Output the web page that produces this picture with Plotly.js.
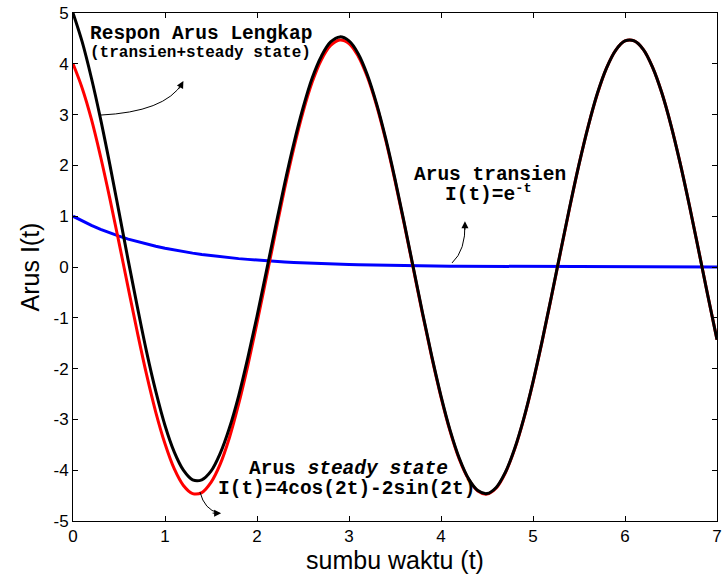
<!DOCTYPE html>
<html>
<head>
<meta charset="utf-8">
<script src="https://cdn.plot.ly/plotly-3.0.1.min.js"></script>
<style>html,body{margin:0;padding:0;background:#fff;}#chart{width:723px;height:580px;}</style>
</head>
<body>
<div id="chart"></div>
<script>
// time axis (s), step 0.1 from 0 to 7
const waktu = [0,0.1,0.2,0.3,0.4,0.5,0.6,0.7,0.8,0.9,1,1.1,1.2,1.3,1.4,1.5,1.6,1.7,1.8,1.9,2,2.1,2.2,2.3,2.4,2.5,2.6,2.7,2.8,2.9,3,3.1,3.2,3.3,3.4,3.5,3.6,3.7,3.8,3.9,4,4.1,4.2,4.3,4.4,4.5,4.6,4.7,4.8,4.9,5,5.1,5.2,5.3,5.4,5.5,5.6,5.7,5.8,5.9,6,6.1,6.2,6.3,6.4,6.5,6.6,6.7,6.8,6.9,7];
// transient current (blue)
const arusTransien = [1,0.905,0.819,0.741,0.670,0.607,0.549,0.497,0.449,0.407,0.368,0.333,0.301,0.273,0.247,0.223,0.202,0.183,0.165,0.150,0.135,0.122,0.111,0.100,0.091,0.082,0.074,0.067,0.061,0.055,0.050,0.045,0.041,0.037,0.033,0.030,0.027,0.025,0.022,0.020,0.018,0.017,0.015,0.014,0.012,0.011,0.010,0.009,0.008,0.007,0.007,0.006,0.006,0.005,0.005,0.004,0.004,0.003,0.003,0.003,0.002,0.002,0.002,0.002,0.002,0.002,0.001,0.001,0.001,0.001,0.001];
// steady-state current (red)
const arusSteady = [4.00,3.52,2.91,2.17,1.35,0.48,-0.41,-1.29,-2.12,-2.86,-3.48,-3.97,-4.30,-4.46,-4.44,-4.24,-3.88,-3.36,-2.70,-1.94,-1.10,-0.22,0.67,1.54,2.34,3.05,3.64,4.08,4.36,4.47,4.40,4.15,3.74,3.18,2.49,1.70,0.85,-0.04,-0.93,-1.78,-2.56,-3.24,-3.79,-4.18,-4.41,-4.47,-4.35,-4.05,-3.59,-2.99,-2.27,-1.46,-0.59,0.30,1.18,2.02,2.77,3.41,3.92,4.27,4.45,4.45,4.28,3.93,3.43,2.79,2.04,1.21,0.33,-0.56,-1.43];
// complete response (black)
const arusLengkap = [5.00,4.43,3.72,2.91,2.02,1.08,0.13,-0.79,-1.67,-2.45,-3.12,-3.64,-4.00,-4.19,-4.19,-4.02,-3.67,-3.17,-2.54,-1.79,-0.97,-0.10,0.78,1.64,2.43,3.13,3.72,4.15,4.43,4.53,4.45,4.20,3.78,3.21,2.52,1.73,0.87,-0.02,-0.91,-1.76,-2.54,-3.22,-3.77,-4.17,-4.40,-4.46,-4.34,-4.04,-3.58,-2.98,-2.26,-1.45,-0.58,0.31,1.19,2.02,2.77,3.42,3.92,4.27,4.45,4.45,4.28,3.93,3.43,2.79,2.04,1.21,0.33,-0.56,-1.43];
const xTicks = [0,1,2,3,4,5,6,7];
const yTicks = [-5,-4,-3,-2,-1,0,1,2,3,4,5];

const mono = 'Liberation Mono, Courier New, monospace';
const traces = [
  {x: waktu, y: arusTransien, mode: 'lines', line: {color: '#0000ff', width: 3}, hoverinfo: 'none'},
  {x: waktu, y: arusSteady, mode: 'lines', line: {color: '#ff0000', width: 3, shape: 'spline'}, hoverinfo: 'none'},
  {x: waktu, y: arusLengkap, mode: 'lines', line: {color: '#000000', width: 3, shape: 'spline'}, hoverinfo: 'none'}
];

const arrowHead = (x, y, ax, ay) => ({x: x, y: y, xref: 'x', yref: 'y', text: '', showarrow: true,
  arrowhead: 2, arrowsize: 1.4, arrowwidth: 1, arrowcolor: '#000', ax: ax, ay: ay, standoff: 0});

const layout = {
  width: 723, height: 580,
  margin: {l: 73, r: 6, t: 13, b: 59},
  paper_bgcolor: '#fff', plot_bgcolor: '#fff',
  showlegend: false,
  font: {family: 'Liberation Sans, Arial, sans-serif', color: '#000', size: 16},
  xaxis: {range: [0, 7], tickvals: xTicks, ticktext: xTicks.map(String), ticks: 'inside', ticklen: 5,
    tickcolor: '#000', showline: true, linecolor: '#000', linewidth: 1, mirror: 'ticks', showgrid: false,
    zeroline: false, tickfont: {size: 17}, title: {text: 'sumbu waktu (t)', font: {size: 25}, standoff: 4}},
  yaxis: {range: [-5, 5], tickvals: yTicks, ticktext: yTicks.map(String), ticks: 'inside', ticklen: 5,
    tickcolor: '#000', showline: true, linecolor: '#000', linewidth: 1, mirror: 'ticks', showgrid: false,
    zeroline: false, tickfont: {size: 17}, title: {text: 'Arus I(t)', font: {size: 25}, standoff: 6}},
  shapes: [
    {type: 'path', xref: 'x', yref: 'y', path: 'M 0.293 2.99 Q 1.0 3.05 1.19 3.62', line: {color: '#000', width: 1}},
    {type: 'path', xref: 'x', yref: 'y', path: 'M 4.12 0.08 Q 4.27 0.33 4.26 0.86', line: {color: '#000', width: 1}},
    {type: 'path', xref: 'x', yref: 'y', path: 'M 1.38 -4.43 Q 1.43 -4.78 1.58 -4.84', line: {color: '#000', width: 1}}
  ],
  annotations: [
    {x: 1.386, y: 4.59, xref: 'x', yref: 'y', text: '<b>Respon Arus Lengkap</b>', showarrow: false,
      font: {family: mono, size: 19.5, color: '#000'}},
    {x: 1.386, y: 4.21, xref: 'x', yref: 'y', text: '<b>(transien+steady state)</b>', showarrow: false,
      font: {family: mono, size: 16, color: '#000'}},
    {x: 4.53, y: 1.81, xref: 'x', yref: 'y', text: '<b>Arus transien</b>', showarrow: false,
      font: {family: mono, size: 19.5, color: '#000'}},
    {x: 4.52, y: 1.44, xref: 'x', yref: 'y', text: '<b>I(t)=e<sup>-t</sup></b>', showarrow: false,
      font: {family: mono, size: 19.5, color: '#000'}},
    {x: 2.99, y: -3.98, xref: 'x', yref: 'y', text: '<b>Arus <i>steady state</i></b>', showarrow: false,
      font: {family: mono, size: 19.5, color: '#000'}},
    {x: 2.97, y: -4.37, xref: 'x', yref: 'y', text: '<b>I(t)=4cos(2t)-2sin(2t)</b>', showarrow: false,
      font: {family: mono, size: 19.5, color: '#000'}},
    arrowHead(1.20, 3.66, -5, 9),
    arrowHead(4.26, 0.90, 0, 10),
    arrowHead(1.61, -4.845, -10, 0)
  ]
};

Plotly.newPlot('chart', traces, layout, {staticPlot: true, displayModeBar: false});
</script>
</body>
</html>
